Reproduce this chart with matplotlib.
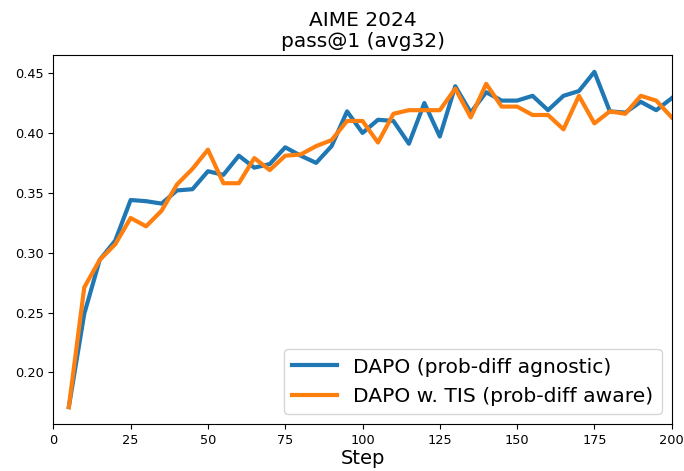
import matplotlib
matplotlib.use("Agg")
import matplotlib.pyplot as plt

# evaluation steps
steps = list(range(5, 205, 5))

# pass@1 averaged over 32 samples
dapo_agnostic = [
    0.171, 0.249, 0.294, 0.310, 0.344, 0.343, 0.341, 0.352, 0.353, 0.368,
    0.365, 0.381, 0.371, 0.374, 0.388, 0.381, 0.375, 0.389, 0.418, 0.400,
    0.411, 0.410, 0.391, 0.425, 0.397, 0.439, 0.417, 0.434, 0.427, 0.427,
    0.431, 0.419, 0.431, 0.435, 0.451, 0.418, 0.417, 0.426, 0.419, 0.429,
]
dapo_tis = [
    0.171, 0.271, 0.294, 0.307, 0.329, 0.322, 0.335, 0.357, 0.370, 0.386,
    0.358, 0.358, 0.379, 0.369, 0.381, 0.382, 0.389, 0.394, 0.410, 0.410,
    0.392, 0.416, 0.419, 0.419, 0.419, 0.437, 0.413, 0.441, 0.422, 0.422,
    0.415, 0.415, 0.403, 0.431, 0.408, 0.418, 0.416, 0.431, 0.427, 0.413,
]

fig = plt.figure(figsize=(6.84, 4.71), dpi=100)
ax = fig.add_axes([0.078, 0.100, 0.904, 0.783])

ax.plot(steps, dapo_agnostic, color="tab:blue", lw=3, label="DAPO (prob-diff agnostic)")
ax.plot(steps, dapo_tis, color="tab:orange", lw=3, label="DAPO w. TIS (prob-diff aware)")

ax.set_xlim(0, 200)
ax.set_xticks(range(0, 201, 25))
ax.tick_params(labelsize=9.3)
ax.set_xlabel("Step", fontsize=14, labelpad=2)
ax.set_title("AIME 2024\npass@1 (avg32)", fontsize=14.5, linespacing=1.15)
ax.legend(loc="lower right", fontsize=14.6, handlelength=2.2)

fig.savefig("out.png", dpi=100)
